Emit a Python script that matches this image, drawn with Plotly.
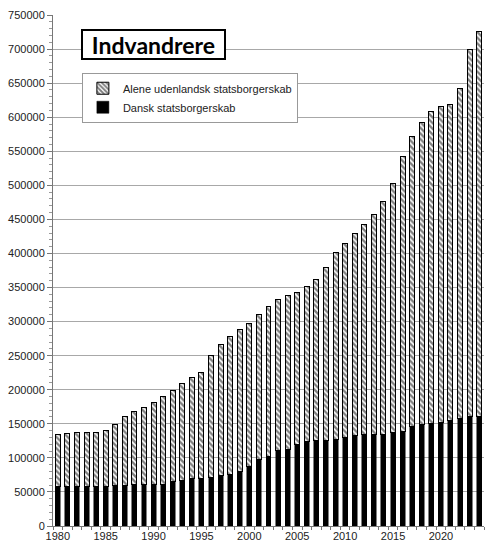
import plotly.graph_objects as go

years = list(range(1980, 2025))
total = [135000, 136000, 137000, 137500, 137500, 140500, 149700, 160400, 167800, 174200,
         181000, 190300, 199600, 209400, 218200, 225500, 250000, 266700, 277800, 288700,
         297900, 309700, 322400, 332200, 338600, 343400, 351800, 361500, 379100, 402100,
         414900, 429600, 441800, 456900, 476500, 502000, 541600, 571400, 592500, 608600,
         615400, 618900, 641800, 699600, 725500]
dansk = [57700, 57700, 57700, 57700, 57700, 57900, 59700, 59700, 60700, 60700,
         60700, 61100, 65000, 67000, 69000, 69000, 71400, 73800, 76300, 80700,
         87600, 98300, 102200, 111500, 112500, 119900, 124300, 126200, 126200, 127200,
         130600, 133100, 134000, 135000, 134500, 137000, 139000, 145700, 149700, 150200,
         151200, 154600, 157500, 161000, 161000]
udenlandsk = [t - d for t, d in zip(total, dansk)]
xtick_vals = list(range(1980, 2025, 5))

fig = go.Figure()
fig.add_trace(go.Bar(
    x=years, y=dansk, name="Dansk statsborgerskab",
    marker=dict(color="black", line=dict(color="black", width=0.5)),
))
fig.add_trace(go.Bar(
    x=years, y=udenlandsk, name="Alene udenlandsk statsborgerskab",
    marker=dict(color="white", line=dict(color="black", width=1),
                pattern=dict(shape="\\", fgcolor="black", bgcolor="white",
                             size=4, solidity=0.6)),
))

fig.update_layout(
    width=486, height=545,
    margin=dict(l=53, r=2, t=15, b=19),
    barmode="stack", bargap=0.48,
    plot_bgcolor="white", paper_bgcolor="white",
    font=dict(family="Liberation Sans, Arial, sans-serif", size=11, color="#222"),
    showlegend=True,
    legend=dict(
        x=0.067, y=0.887, xanchor="left", yanchor="top",
        traceorder="reversed", bgcolor="white",
        bordercolor="#999", borderwidth=1,
        font=dict(size=11, color="#222"),
        itemwidth=30, tracegroupgap=0,
    ),
    annotations=[dict(
        text="<b>Indvandrere</b>", xref="paper", yref="paper",
        x=0.233, y=0.942, xanchor="center", yanchor="middle",
        showarrow=False, font=dict(family="Lato, Open Sans, sans-serif", size=23, color="black"),
        bordercolor="black", borderwidth=2, bgcolor="white",
        width=139, height=25,
    )],
)
fig.update_yaxes(
    range=[0, 750000], dtick=50000, tick0=0, automargin=False,
    showgrid=True, gridcolor="#a8a8a8", gridwidth=1,
    ticks="outside", ticklen=5, tickcolor="#777",
    showline=True, linecolor="#777", linewidth=1,
    zeroline=False, tickformat="d",
    minor=dict(ticks="outside", dtick=10000, ticklen=3, tickcolor="#999", showgrid=False),
)
fig.update_xaxes(
    range=[1979.5, 2024.5], tickvals=xtick_vals, ticktext=[str(v) for v in xtick_vals],
    ticks="", showgrid=False, automargin=False,
    showline=True, linecolor="#777", linewidth=1, zeroline=False,
    minor=dict(ticks="outside", tick0=1979.5, dtick=1, ticklen=3, tickcolor="#777", showgrid=False),
)

fig.write_html(
    "out.html",
    config={"displayModeBar": False},
    post_script="document.body.style.margin='0';document.body.style.padding='0';document.body.style.overflow='hidden';",
)
